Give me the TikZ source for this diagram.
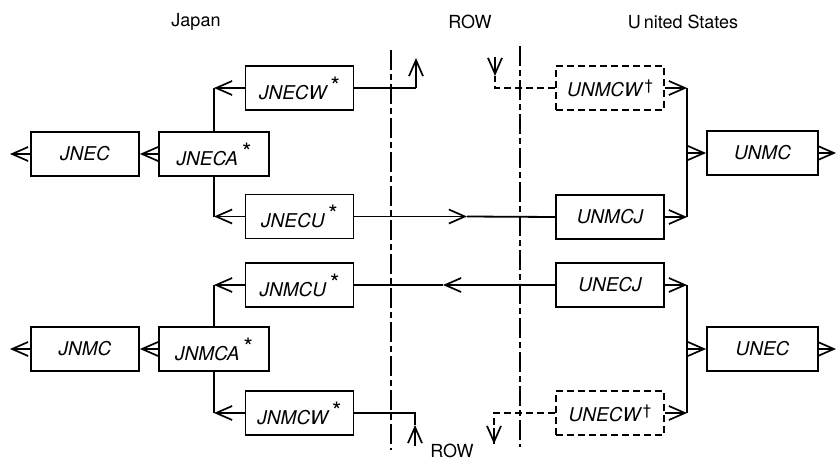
\documentclass[tikz,border=0pt]{standalone}
\usepackage{fontspec}
\setmainfont{TeX Gyre Heros}
\usetikzlibrary{arrows.meta}
\newcommand{\myast}{\raisebox{5pt}{\fontsize{24}{24}\selectfont\upshape\,*}}
\newcommand{\mydag}{\raisebox{6pt}{\fontsize{15}{15}\selectfont\upshape\,†}}
\begin{document}
\begin{tikzpicture}[x=1pt,y=-1pt,
  box/.style={draw,line width=1.8pt,minimum width=108pt,minimum height=44pt,inner sep=0pt,font=\fontsize{19}{19}\selectfont\itshape},
  dbox/.style={box,dash pattern=on 7pt off 4pt},
  arr/.style={-{Straight Barb[length=16pt,width=14pt,line width=1.7pt]}},
  ln/.style={line width=1.8pt},
  dln/.style={line width=1.8pt,dash pattern=on 7pt off 4pt},
  row/.style={line width=1.8pt,dash pattern=on 20pt off 4pt on 6pt off 4pt},
  hdr/.style={font=\fontsize{18}{18}\selectfont}]
\useasboundingbox (0,0) rectangle (836,463);
% headers
\node[hdr] (hjp) at (196,22) {Japan};
\node[hdr] (hrow) at (470,22) {ROW};
\node[hdr] (hus) at (683,22) {U\,nited States};
\node[hdr] (hrowb) at (452,451) {ROW};
% ROW boundaries
\coordinate (rl1) at (391,50); \coordinate (rl2) at (391,450);
\coordinate (rr1) at (520,46); \coordinate (rr2) at (520,447);
\draw[row] (rl1) -- (rl2);
\draw[row] (rr1) -- (rr2);
% Japan boxes
\node[box] (JNECW) at (299.5,88) {JNECW\myast};
\node[box] (JNEC) at (85,154) {JNEC};
\node[box,minimum width=110pt] (JNECA) at (214,154) {JNECA\myast};
\node[box] (JNECU) at (299.5,216.5) {JNECU\myast};
\node[box] (JNMCU) at (299.5,285) {JNMCU\myast};
\node[box] (JNMC) at (85,349) {JNMC};
\node[box,minimum width=110pt] (JNMCA) at (214,349) {JNMCA\myast};
\node[box] (JNMCW) at (299.5,413) {JNMCW\myast};
% US boxes
\node[dbox] (UNMCW) at (610,88) {UNMCW\mydag};
\node[box,minimum width=111pt] (UNMC) at (762.5,153) {UNMC};
\node[box] (UNMCJ) at (610,217) {UNMCJ};
\node[box] (UNECJ) at (610,285) {UNECJ};
\node[box,minimum width=111pt] (UNEC) at (762.5,349) {UNEC};
\node[dbox] (UNECW) at (610,413) {UNECW\mydag};
% Japan EC
\coordinate (ja1) at (JNECA.north |- JNECW.west);
\coordinate (ja2) at (JNECA.south |- JNECU.west);
\draw[ln,arr] (JNECW.west) -- (ja1);
\draw[ln] (ja1) -- (JNECA.north);
\draw[ln,arr] (JNECU.west) -- (ja2);
\draw[ln] (ja2) -- (JNECA.south);
\draw[ln,arr] (JNECA.west) -- (JNEC.east);
\coordinate (jecout) at (10,154);
\draw[ln,arr] (JNEC.west) -- (jecout);
% Japan MC
\coordinate (jm1) at (JNMCA.north |- JNMCU.west);
\coordinate (jm2) at (JNMCA.south |- JNMCW.west);
\draw[ln,arr] (JNMCU.west) -- (jm1);
\draw[ln] (jm1) -- (JNMCA.north);
\draw[ln,arr] (JNMCW.west) -- (jm2);
\draw[ln] (jm2) -- (JNMCA.south);
\draw[ln,arr] (JNMCA.west) -- (JNMC.east);
\coordinate (jmcout) at (10,349);
\draw[ln,arr] (JNMC.west) -- (jmcout);
% Japan to ROW
\coordinate (jw1) at (416,88);
\coordinate (jw1t) at (416,58);
\draw[ln] (JNECW.east) -- (jw1);
\draw[ln,arr] (jw1) -- (jw1t);
\coordinate (jw2) at (415,413);
\coordinate (jw2m) at (415,425);
\coordinate (jw2b) at (415,446);
\draw[ln] (JNMCW.east) -- (jw2) -- (jw2m);
\draw[ln,arr] (jw2b) -- (jw2m);
% trade between Japan and US
\coordinate (m1) at (467,216.5);
\draw[ln,arr] (JNECU.east) -- (m1);
\draw[ln] (m1) -- (UNMCJ.west);
\coordinate (m2) at (443,285);
\draw[ln,arr] (UNECJ.west) -- (m2);
\draw[ln] (m2) -- (JNMCU.east);
% US to/from ROW
\coordinate (uw1) at (495,88);
\coordinate (uw1m) at (495,76);
\coordinate (uw1t) at (495,57);
\draw[dln] (UNMCW.west) -- (uw1) -- (uw1m);
\draw[ln,arr] (uw1t) -- (uw1m);
\coordinate (uw2) at (494,413);
\coordinate (uw2b) at (494,444);
\coordinate (uw2m) at (494,428);
\draw[dln] (UNECW.west) -- (uw2) -- (uw2b);
\draw[ln,arr] (uw2m) -- (uw2b);
% US MC
\coordinate (um1) at (687,88);
\coordinate (um2) at (687,217);
\coordinate (umm) at (687,153);
\draw[ln,arr] (UNMCW.east) -- (um1);
\draw[ln,arr] (UNMCJ.east) -- (um2);
\draw[ln] (um1) -- (um2);
\draw[ln,arr] (umm) -- (UNMC.west);
\coordinate (umcout) at (836,153);
\draw[ln,arr] (UNMC.east) -- (umcout);
% US EC
\coordinate (ue1) at (687,285);
\coordinate (ue2) at (687,413);
\coordinate (uem) at (687,349);
\draw[ln,arr] (UNECJ.east) -- (ue1);
\draw[ln,arr] (UNECW.east) -- (ue2);
\draw[ln] (ue1) -- (ue2);
\draw[ln,arr] (uem) -- (UNEC.west);
\coordinate (uecout) at (836,349);
\draw[ln,arr] (UNEC.east) -- (uecout);
\end{tikzpicture}
\end{document}
